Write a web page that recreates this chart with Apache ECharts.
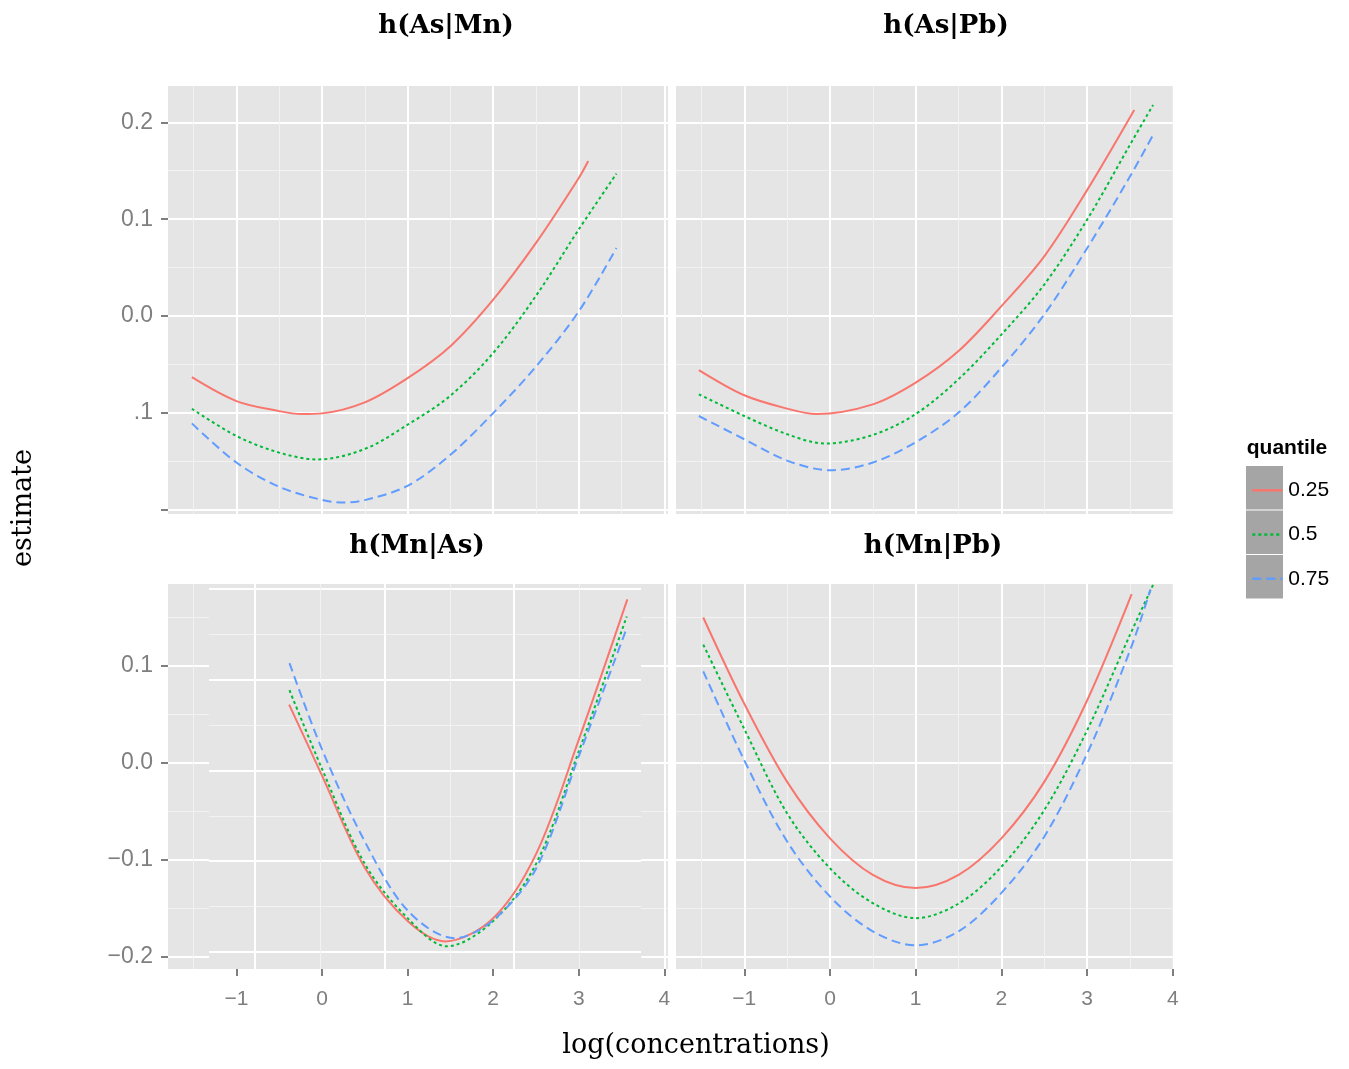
<!DOCTYPE html>
<html><head><meta charset="utf-8">
<script src="https://cdn.jsdelivr.net/npm/echarts@6/dist/echarts.min.js"></script>
<style>html,body{margin:0;padding:0;background:#fff}#c{width:1349px;height:1069px}</style>
</head><body><div id="c"></div>
<script>
// ---------- data ----------
const quantiles = ['0.25', '0.5', '0.75'];
const panelTitles = ['h(As|Mn)', 'h(As|Pb)', 'h(Mn|As)', 'h(Mn|Pb)'];
const xTickValues = [-1, 0, 1, 2, 3, 4];
const xTickLabels = ['−1', '0', '1', '2', '3', '4'];
const xMinorValues = [-1.5, -0.5, 0.5, 1.5, 2.5, 3.5];
const topYTickValues = [-0.2, -0.1, 0, 0.1, 0.2];
const topYTickLabels = ['', '.1', '0.0', '0.1', '0.2'];
const bottomYTickValues = [-0.2, -0.1, 0, 0.1];
const bottomYTickLabels = ['−0.2', '−0.1', '0.0', '0.1'];
const yMinorValues = [-0.15, -0.05, 0.05, 0.15];
// displaced inner grid seen in the h(Mn|As) panel (in that panel's units)
const innerXMajor = [-0.783, 0.736, 2.243];
const innerXMinor = [-0.023, 1.495, 3.002];
const innerYMajor = [0.1791, 0.0856, -0.0076, -0.1012, -0.1947];
const innerYMinor = [0.1324, 0.0392, -0.0546, -0.1479];

// h(As|Mn)
const asMn25 = [[-1.52,-0.063],[-1,-0.0876],[-0.5,-0.098],[-0.24,-0.101],[0,-0.1003],[0.5,-0.089],[1,-0.064],[1.5,-0.031],[2,0.017],[2.5,0.0755],[3,0.1425],[3.11,0.16]];
const asMn50 = [[-1.52,-0.0955],[-1,-0.1236],[-0.5,-0.1408],[-0.05,-0.1478],[0.5,-0.137],[1,-0.112],[1.5,-0.082],[2,-0.038],[2.5,0.021],[3,0.0895],[3.44,0.147]];
const asMn75 = [[-1.52,-0.1106],[-1,-0.151],[-0.5,-0.176],[0,-0.1896],[0.255,-0.1923],[0.5,-0.1898],[1,-0.175],[1.5,-0.143],[2,-0.1],[2.5,-0.052],[3,0.005],[3.44,0.0704]];
// h(As|Pb)
const asPb25 = [[-1.53,-0.0556],[-1,-0.0816],[-0.5,-0.0954],[-0.16,-0.101],[0.5,-0.091],[1,-0.0686],[1.5,-0.036],[2,0.0103],[2.5,0.0617],[3,0.130],[3.55,0.2127]];
const asPb50 = [[-1.53,-0.0806],[-1,-0.103],[-0.5,-0.1218],[-0.06,-0.1314],[0.5,-0.1225],[1,-0.101],[1.5,-0.065],[2,-0.019],[2.5,0.0326],[3,0.0995],[3.5,0.1767],[3.77,0.2178]];
const asPb75 = [[-1.53,-0.103],[-1,-0.127],[-0.5,-0.149],[0,-0.159],[0.5,-0.151],[1,-0.130],[1.5,-0.0995],[2,-0.053],[2.5,0.0017],[3,0.070],[3.5,0.144],[3.77,0.187]];
// h(Mn|As)
const mnAs25 = [[-0.384,0.0602],[0,-0.013],[0.5,-0.108],[1,-0.163],[1.44,-0.184],[2,-0.16],[2.5,-0.094],[3,0.024],[3.567,0.1686]];
const mnAs50 = [[-0.38,0.075],[0,-0.006],[0.5,-0.104],[1,-0.16],[1.46,-0.189],[2,-0.163],[2.5,-0.104],[3,0.012],[3.56,0.151]];
const mnAs75 = [[-0.38,0.103],[0,0.014],[0.5,-0.081],[1,-0.152],[1.55,-0.1806],[2,-0.162],[2.5,-0.109],[3,0.007],[3.56,0.139]];
// h(Mn|Pb)
const mnPb25 = [[-1.479,0.15],[-1,0.061],[-0.5,-0.0195],[0,-0.0777],[0.5,-0.1154],[1,-0.129],[1.5,-0.1154],[2,-0.0777],[2.5,-0.0195],[3,0.0644],[3.52,0.174]];
const mnPb50 = [[-1.479,0.122],[-1,0.035],[-0.5,-0.052],[0,-0.1086],[0.5,-0.1445],[1,-0.160],[1.5,-0.145],[2,-0.107],[2.5,-0.0486],[3,0.0336],[3.5,0.132],[3.77,0.1836]];
const mnPb75 = [[-1.479,0.0945],[-1,0.0027],[-0.5,-0.081],[0,-0.1377],[0.5,-0.1736],[1,-0.188],[1.5,-0.1736],[2,-0.134],[2.5,-0.076],[3,0.0096],[3.5,0.1158],[3.74,0.179]];

// ---------- styling / layout ----------
const COLORS = ['#F8766D', '#00BA38', '#619CFF'];
const DASHES = ['solid', [3, 3], [9, 5]];
const TXT_GREY = '#7F7F7F';
const PANEL_BG = '#E5E5E5';
const SANS = '"Liberation Sans", Arial, sans-serif';
const SERIF = '"DejaVu Serif", serif';

const panels = [
  { title: panelTitles[0], box: [168, 86, 500, 428], x: [-1.799, 4.042], y: [-0.2041, 0.2374],
    yTicks: topYTickValues, yLabels: topYTickLabels, showY: true, showX: false, data: [asMn25, asMn50, asMn75], tpos: [446, 26] },
  { title: panelTitles[1], box: [676, 86, 496.8, 428], x: [-1.797, 4], y: [-0.2041, 0.2374],
    yTicks: topYTickValues, yLabels: null, showY: false, showX: false, data: [asPb25, asPb50, asPb75], tpos: [946, 26] },
  { title: panelTitles[2], box: [168, 584, 500, 385], x: [-1.799, 4.042], y: [-0.2124, 0.1845],
    yTicks: bottomYTickValues, yLabels: bottomYTickLabels, showY: true, showX: true, data: [mnAs25, mnAs50, mnAs75], tpos: [417, 546], inner: true },
  { title: panelTitles[3], box: [676, 584, 496.8, 385], x: [-1.797, 4], y: [-0.2124, 0.1845],
    yTicks: bottomYTickValues, yLabels: null, showY: false, showX: true, data: [mnPb25, mnPb50, mnPb75], tpos: [933, 546] }
];

const grids = [], xAxes = [], yAxes = [], series = [], titles = [];

function within(vals, min, max) { return vals.filter(v => v > min + 1e-9 && v < max - 1e-9); }
function lineAxis(isX, gridIndex, min, max, vals, color, width, z) {
  return { type: 'value', gridIndex, min, max, z, position: isX ? 'bottom' : 'left', offset: 0,
    axisLine: { show: false, onZero: false }, axisLabel: { show: false },
    axisTick: { show: false, customValues: vals },
    splitLine: { show: true, customValues: vals, lineStyle: { color, width } } };
}
function labelAxis(isX, gridIndex, min, max, ticks, labels, show, margin, fontSize) {
  return { type: 'value', gridIndex, min, max, z: 0, position: isX ? 'bottom' : 'left', offset: 0,
    axisLine: { show: false, onZero: false }, splitLine: { show: false },
    axisTick: { show: show, customValues: ticks, length: 7, lineStyle: { color: TXT_GREY, width: 2 } },
    axisLabel: { show: show, customValues: ticks, margin, color: TXT_GREY, fontFamily: SANS, fontSize,
      formatter: v => { const i = ticks.findIndex(t => Math.abs(t - v) < 1e-9); return i < 0 ? '' : labels[i]; } } };
}

panels.forEach((p) => {
  const gi = grids.length;
  grids.push({ left: p.box[0], top: p.box[1], width: p.box[2], height: p.box[3], show: true,
    backgroundColor: PANEL_BG, borderWidth: 0, z: 0 });
  xAxes.push(lineAxis(true, gi, p.x[0], p.x[1], within(xMinorValues, p.x[0], p.x[1]), '#F2F2F2', 1, 0));
  xAxes.push(lineAxis(true, gi, p.x[0], p.x[1], within(xTickValues, p.x[0], p.x[1]), '#FFFFFF', 2, 0));
  yAxes.push(lineAxis(false, gi, p.y[0], p.y[1], within(yMinorValues, p.y[0], p.y[1]), '#F2F2F2', 1, 0));
  yAxes.push(lineAxis(false, gi, p.y[0], p.y[1], within(p.yTicks, p.y[0], p.y[1]), '#FFFFFF', 2, 0));
  const xi = xAxes.length, yi = yAxes.length;
  xAxes.push(labelAxis(true, gi, p.x[0], p.x[1], xTickValues, xTickLabels, p.showX, 20, 21));
  yAxes.push(labelAxis(false, gi, p.y[0], p.y[1], p.yTicks, p.yLabels || [], p.showY, 15, 23));
  p.data.forEach((d, qi) => {
    series.push({ type: 'line', name: quantiles[qi], xAxisIndex: xi, yAxisIndex: yi, data: d,
      symbol: 'none', showSymbol: false, smooth: 0.33, z: 5, silent: true,
      lineStyle: { color: COLORS[qi], width: 2, type: DASHES[qi], cap: 'butt' },
      itemStyle: { color: COLORS[qi] } });
  });
  titles.push({ text: p.title, left: p.tpos[0], top: p.tpos[1], textAlign: 'center', textVerticalAlign: 'middle', padding: 0,
    textStyle: { fontFamily: SERIF, fontWeight: 'bold', fontSize: 26, color: '#000' } });
  if (p.inner) {
    // displaced inner grid overlay
    const ix0 = p.x[0] + (209 - p.box[0]) / p.box[2] * (p.x[1] - p.x[0]);
    const ix1 = p.x[0] + (641 - p.box[0]) / p.box[2] * (p.x[1] - p.x[0]);
    const g2 = grids.length;
    grids.push({ left: 209, top: p.box[1], width: 432, height: p.box[3], show: true,
      backgroundColor: PANEL_BG, borderWidth: 0, z: 1 });
    xAxes.push(lineAxis(true, g2, ix0, ix1, innerXMinor, '#F2F2F2', 1, 2));
    xAxes.push(lineAxis(true, g2, ix0, ix1, innerXMajor, '#FFFFFF', 2, 2));
    yAxes.push(lineAxis(false, g2, p.y[0], p.y[1], innerYMinor, '#F2F2F2', 1, 2));
    yAxes.push(lineAxis(false, g2, p.y[0], p.y[1], innerYMajor, '#FFFFFF', 2, 2));
  }
});

titles.push({ text: 'log(concentrations)', left: 696, top: 1046, textAlign: 'center', textVerticalAlign: 'middle', padding: 0,
  textStyle: { fontFamily: SERIF, fontWeight: 'normal', fontSize: 27, color: '#000' } });
titles.push({ text: 'quantile', left: 1287, top: 448, textAlign: 'center', textVerticalAlign: 'middle', padding: 0,
  textStyle: { fontFamily: SANS, fontWeight: 'bold', fontSize: 21, color: '#000' } });

const option = {
  animation: false,
  backgroundColor: '#FFFFFF',
  title: titles,
  grid: grids,
  xAxis: xAxes,
  yAxis: yAxes,
  series: series,
  legend: { orient: 'vertical', left: 1250, top: 473, itemWidth: 30, itemHeight: 43.3, itemGap: 9.6,
    data: quantiles, selectedMode: false, z: 5, padding: 0,
    itemStyle: { opacity: 0, color: 'transparent', borderWidth: 0 },
    lineStyle: { width: 2.5 },
    textStyle: { fontFamily: SANS, fontSize: 21, color: '#000', padding: [0, 0, 0, 1] } },
  graphic: [
    { type: 'rect', z: 1, shape: { x: 1246, y: 466, width: 37, height: 43.5 }, style: { fill: '#A5A5A5' } },
    { type: 'rect', z: 1, shape: { x: 1246, y: 510.5, width: 37, height: 43.5 }, style: { fill: '#A5A5A5' } },
    { type: 'rect', z: 1, shape: { x: 1246, y: 555, width: 37, height: 43.5 }, style: { fill: '#A5A5A5' } },
    { type: 'text', z: 1, x: 24, y: 508, rotation: Math.PI / 2,
      style: { text: 'estimate', fontFamily: SERIF, fontSize: 27, fill: '#000',
        align: 'center', verticalAlign: 'middle', textAlign: 'center', textVerticalAlign: 'middle' } }
  ]
};

const chart = echarts.init(document.getElementById('c'), null, { renderer: 'canvas' });
chart.setOption(option);
</script>
</body></html>
